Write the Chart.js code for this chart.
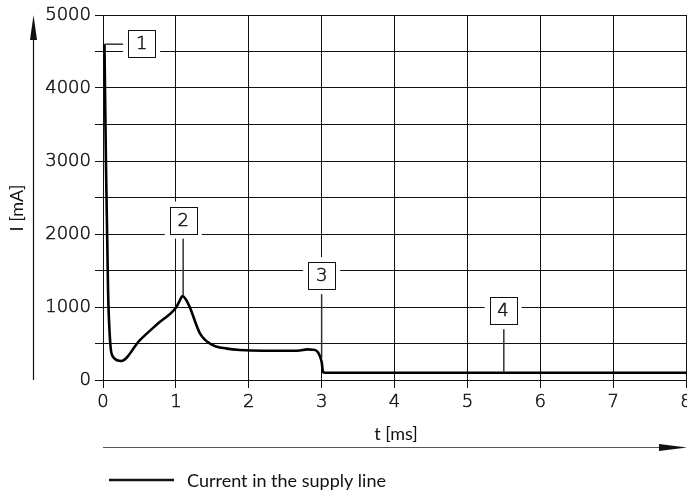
<!DOCTYPE html>
<html>
<head>
<meta charset="utf-8">
<script src="https://cdn.jsdelivr.net/npm/chart.js@4"></script>
<style>
    body { margin: 0; background: #fff; }
    #wrap { width: 687px; height: 491px; }
</style>
</head>
<body>
<div id="wrap"><canvas id="currentChart" width="687" height="491"></canvas></div>
<script>
// Curve data
const timeMs = [0.02, 0.04, 0.07, 0.10, 0.14, 0.25, 0.5, 0.75, 1.0, 1.05, 1.09, 1.14, 1.19, 1.33, 1.5, 1.7, 1.88, 2.2, 2.5, 2.7, 2.8, 2.88, 2.95, 3.0, 3.02, 3.05, 8];
const currentMA = [4600, 3000, 1200, 500, 315, 260, 540, 770, 990, 1080, 1150, 1100, 1000, 640, 480, 430, 410, 400, 400, 405, 420, 415, 380, 250, 110, 100, 100];

// Axes
const xTicks = [0, 1, 2, 3, 4, 5, 6, 7, 8];
const yTicks = [0, 500, 1000, 1500, 2000, 2500, 3000, 3500, 4000, 4500, 5000];
const yTickLabels = ['0', '', '1000', '', '2000', '', '3000', '', '4000', '', '5000'];

// Numbered callouts: label, box position (t, I), leader target (t, I)
const calloutLabels = ['1', '2', '3', '4'];
const calloutBoxT = [0.53, 1.1, 3.0, 5.49];
const calloutBoxI = [4610, 2190, 1430, 950];
const calloutTipT = [0.02, 1.1, 3.0, 5.5];
const calloutTipI = [4600, 1150, 300, 100];

const tickFont = { family: 'DejaVu Sans', size: 18, weight: '300' };
const ink = '#111';

const drawExtras = {
    id: 'drawExtras',
    afterDatasetsDraw(chart) {
        const { ctx, scales } = chart;
        const xs = scales.x, ys = scales.y;
        const area = chart.chartArea;
        ctx.save();

        // callouts
        calloutLabels.forEach((lab, i) => {
            const bx = xs.getPixelForValue(calloutBoxT[i]);
            const by = ys.getPixelForValue(calloutBoxI[i]);
            const tx = xs.getPixelForValue(calloutTipT[i]);
            const ty = ys.getPixelForValue(calloutTipI[i]);
            const half = 13.5;
            ctx.strokeStyle = '#333';
            ctx.lineWidth = 1.5;
            ctx.beginPath();
            if (i === 0) {
                ctx.moveTo(tx, ty);
                ctx.lineTo(bx - half, ty);
            } else {
                ctx.moveTo(tx, by + half);
                ctx.lineTo(tx, ty);
            }
            ctx.stroke();
            ctx.fillStyle = '#fff';
            ctx.fillRect(bx - half - 5, by - half - 5, 2 * half + 10, 2 * half + 10);
            ctx.strokeStyle = ink;
            ctx.lineWidth = 1;
            ctx.strokeRect(Math.round(bx - half) + 0.5, Math.round(by - half) + 0.5, 2 * half, 2 * half);
            ctx.fillStyle = ink;
            ctx.font = '300 18px "DejaVu Sans"';
            ctx.textAlign = 'center';
            ctx.textBaseline = 'middle';
            ctx.lineWidth = 0.5;
            ctx.fillText(lab, bx, by + 1);
            ctx.strokeText(lab, bx, by + 1);
        });

        // y arrow
        ctx.strokeStyle = ink;
        ctx.fillStyle = ink;
        ctx.lineWidth = 1.2;
        ctx.beginPath();
        ctx.moveTo(33.5, area.bottom);
        ctx.lineTo(33.5, area.top + 10);
        ctx.stroke();
        ctx.beginPath();
        ctx.moveTo(33.5, area.top);
        ctx.lineTo(30, area.top + 25);
        ctx.lineTo(37, area.top + 25);
        ctx.closePath();
        ctx.fill();

        // x arrow
        const ay = 447.5;
        ctx.strokeStyle = '#555';
        ctx.beginPath();
        ctx.moveTo(area.left, ay);
        ctx.lineTo(chart.width - 10, ay);
        ctx.stroke();
        ctx.beginPath();
        ctx.moveTo(chart.width, ay);
        ctx.lineTo(chart.width - 28, ay - 3.5);
        ctx.lineTo(chart.width - 28, ay + 3.5);
        ctx.closePath();
        ctx.fill();

        // axis titles
        ctx.font = '18px Lato';
        ctx.textAlign = 'center';
        ctx.textBaseline = 'middle';
        ctx.fillText('t [ms]', 396, 434);
        ctx.save();
        ctx.translate(17, 208);
        ctx.rotate(-Math.PI / 2);
        ctx.fillText('I [mA]', 0, 0);
        ctx.restore();

        // legend
        ctx.strokeStyle = ink;
        ctx.lineWidth = 2.5;
        ctx.beginPath();
        ctx.moveTo(109, 480);
        ctx.lineTo(174, 480);
        ctx.stroke();
        ctx.font = '18px Lato';
        ctx.textAlign = 'left';
        ctx.fillText('Current in the supply line', 187, 481);
        ctx.restore();
    }
};

new Chart(document.getElementById('currentChart'), {
    type: 'line',
    data: {
        datasets: [{
            label: 'Current in the supply line',
            data: timeMs.map((t, i) => ({ x: t, y: currentMA[i] })),
            borderColor: '#000',
            borderWidth: 2.6,
            pointRadius: 0,
            cubicInterpolationMode: 'monotone',
            fill: false
        }]
    },
    options: {
        responsive: false,
        animation: false,
        layout: { autoPadding: false, padding: { top: 15, right: 1, left: 0, bottom: 0 } },
        plugins: { legend: { display: false }, tooltip: { enabled: false } },
        scales: {
            x: {
                type: 'linear',
                min: 0,
                max: 8,
                afterBuildTicks: s => { s.ticks = xTicks.map(v => ({ value: v })); },
                afterFit: s => { s.height = 111; s.paddingLeft = 0; s.paddingRight = 0; },
                grid: { color: ink, lineWidth: 1, tickLength: 8 },
                border: { color: ink },
                ticks: {
                    color: ink, font: tickFont, padding: 4, maxRotation: 0, autoSkip: false,
                    textStrokeColor: ink, textStrokeWidth: 0.5
                }
            },
            y: {
                min: 0,
                max: 5000,
                afterBuildTicks: s => { s.ticks = yTicks.map(v => ({ value: v })); },
                afterFit: s => { s.width = 103; s.paddingTop = 0; s.paddingBottom = 0; },
                grid: { color: ink, lineWidth: 1, tickLength: 8 },
                border: { color: ink },
                ticks: {
                    color: ink, font: tickFont, padding: 4, autoSkip: false,
                    textStrokeColor: ink, textStrokeWidth: 0.5,
                    callback: (v, i) => yTickLabels[i]
                }
            }
        }
    },
    plugins: [drawExtras]
});
</script>
</body>
</html>
